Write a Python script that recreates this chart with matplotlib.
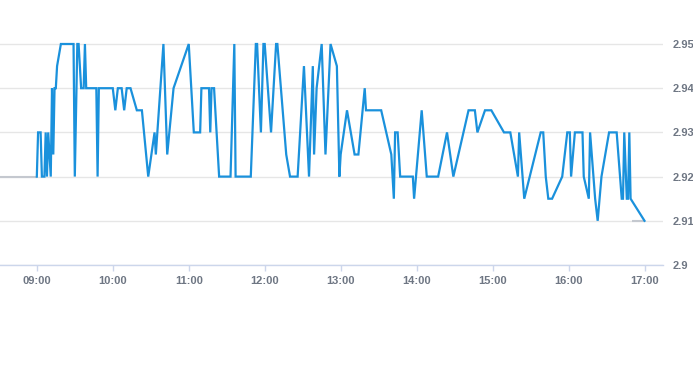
import matplotlib
matplotlib.use("Agg")
import matplotlib.pyplot as plt
import matplotlib.dates as mdates
import pandas as pd

# ---- data ----
times = ["09:00", "09:01", "09:03", "09:04", "09:06", "09:07", "09:08", "09:09", "09:11", "09:12",
         "09:13", "09:14", "09:15", "09:16", "09:19", "09:29", "09:30", "09:32", "09:33", "09:35",
         "09:37", "09:38", "09:39", "09:47", "09:48", "09:49", "10:00", "10:02", "10:04", "10:07",
         "10:09", "10:11", "10:14", "10:19", "10:23", "10:28", "10:33", "10:34", "10:40", "10:43",
         "10:48", "11:00", "11:04", "11:09", "11:10", "11:16", "11:17", "11:18", "11:20", "11:24",
         "11:33", "11:36", "11:37", "11:49", "11:53", "11:54", "11:57", "11:59", "12:00", "12:05",
         "12:09", "12:10", "12:17", "12:20", "12:26", "12:31", "12:35", "12:38", "12:39", "12:41",
         "12:45", "12:48", "12:52", "12:57", "12:59", "13:00", "13:05", "13:11", "13:14", "13:19",
         "13:20", "13:32", "13:40", "13:42", "13:43", "13:45", "13:47", "13:57", "13:58", "14:04",
         "14:08", "14:17", "14:24", "14:29", "14:41", "14:46", "14:48", "14:54", "14:59", "15:09",
         "15:14", "15:20", "15:21", "15:25", "15:38", "15:40", "15:42", "15:44", "15:47", "15:55",
         "15:59", "16:01", "16:02", "16:05", "16:11", "16:12", "16:16", "16:17", "16:21", "16:23",
         "16:26", "16:32", "16:38", "16:42", "16:43", "16:44", "16:46", "16:47", "16:48", "16:49",
         "17:00"]
prices = [2.92, 2.93, 2.93, 2.92, 2.92, 2.93, 2.92, 2.93, 2.92, 2.94,
          2.925, 2.94, 2.94, 2.945, 2.95, 2.95, 2.92, 2.95, 2.95, 2.94,
          2.94, 2.95, 2.94, 2.94, 2.92, 2.94, 2.94, 2.935, 2.94, 2.94,
          2.935, 2.94, 2.94, 2.935, 2.935, 2.92, 2.93, 2.925, 2.95, 2.925,
          2.94, 2.95, 2.93, 2.93, 2.94, 2.94, 2.93, 2.94, 2.94, 2.92,
          2.92, 2.95, 2.92, 2.92, 2.95, 2.95, 2.93, 2.95, 2.95, 2.93,
          2.95, 2.95, 2.925, 2.92, 2.92, 2.945, 2.92, 2.945, 2.925, 2.94,
          2.95, 2.925, 2.95, 2.945, 2.92, 2.925, 2.935, 2.925, 2.925, 2.94,
          2.935, 2.935, 2.925, 2.915, 2.93, 2.93, 2.92, 2.92, 2.915, 2.935,
          2.92, 2.92, 2.93, 2.92, 2.935, 2.935, 2.93, 2.935, 2.935, 2.93,
          2.93, 2.92, 2.93, 2.915, 2.93, 2.93, 2.92, 2.915, 2.915, 2.92,
          2.93, 2.93, 2.92, 2.93, 2.93, 2.92, 2.915, 2.93, 2.915, 2.91,
          2.92, 2.93, 2.93, 2.915, 2.915, 2.93, 2.915, 2.915, 2.93, 2.915,
          2.91]

pre_times = ["08:30", "09:00"]
pre_prices = [2.92, 2.92]
post_times = ["16:50", "17:00"]
post_prices = [2.91, 2.91]

x_ticks = ["09:00", "10:00", "11:00", "12:00", "13:00", "14:00", "15:00", "16:00", "17:00"]
y_ticks = [2.90, 2.91, 2.92, 2.93, 2.94, 2.95]
y_labels = ["2.9", "2.91", "2.92", "2.93", "2.94", "2.95"]

def to_dt(lst):
    return pd.to_datetime(["2024-01-02 " + t for t in lst])

W, H = 693, 365
fig = plt.figure(figsize=(W / 100, H / 100), dpi=100)
# plot area: x 0..663 px, y 10..265 px
ax = fig.add_axes([0 / W, (H - 265) / H, 663 / W, (265 - 10) / H])

ax.plot(to_dt(pre_times), pre_prices, color="#c4c8cf", lw=1.5, solid_capstyle="butt", zorder=2)
ax.plot(to_dt(post_times), post_prices, color="#c4c8cf", lw=1.5, solid_capstyle="butt", zorder=2)
ax.plot(to_dt(times), prices, color="#1a91dc", lw=1.6, solid_joinstyle="miter", zorder=3)

x0 = pd.Timestamp("2024-01-02 08:30:55")
x1 = pd.Timestamp("2024-01-02 17:14:36")
ax.set_xlim(x0, x1)
ax.set_ylim(2.90, 2.90 + 0.05 * 255 / 221)

ax.set_xticks(to_dt(x_ticks))
ax.xaxis.set_major_formatter(mdates.DateFormatter("%H:%M"))
ax.set_yticks(y_ticks)
ax.set_yticklabels(y_labels)
ax.yaxis.tick_right()

lab_col = "#6e7683"
ax.tick_params(axis="x", length=4, width=1, color="#ccd6eb", pad=4, labelsize=8, labelcolor=lab_col)
ax.tick_params(axis="y", length=0, pad=7, labelsize=8, labelcolor=lab_col)
for lbl in ax.get_xticklabels() + ax.get_yticklabels():
    lbl.set_fontfamily("Liberation Sans")
    lbl.set_fontweight("bold")
for lbl in ax.get_yticklabels():
    lbl.set_horizontalalignment("left")

ax.grid(axis="y", color="#e6e6e6", lw=1)
ax.grid(axis="x", visible=False)
ax.set_axisbelow(True)
for s in ["top", "left", "right"]:
    ax.spines[s].set_visible(False)
ax.spines["bottom"].set_color("#ccd6eb")
ax.spines["bottom"].set_linewidth(1)
ax.patch.set_alpha(0)

fig.savefig("out.png", dpi=100)
